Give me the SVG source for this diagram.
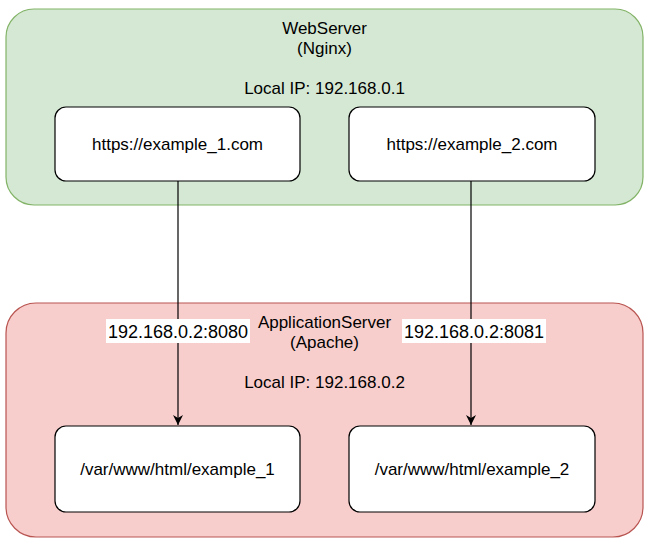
<svg xmlns="http://www.w3.org/2000/svg" width="652" height="544" viewBox="0 0 652 544">
<style>
text{font-family:"Liberation Sans",Arial,sans-serif;font-size:17px;fill:#000;text-anchor:middle}
.lbl{font-size:18px}
.box{fill:#fff;stroke:#000;stroke-width:1.2}
.edge{stroke:#000;stroke-width:1.2;fill:none}
</style>
<defs>
<marker id="arr" viewBox="0 0 10 10" refX="10" refY="5" markerWidth="10" markerHeight="10" markerUnits="userSpaceOnUse" orient="auto">
<path d="M0,0 L10,5 L0,10 L3,5 Z" fill="#000"/>
</marker>
</defs>
<g id="webserver">
<rect x="6" y="9" width="637" height="196" rx="28" fill="#d5e8d4" stroke="#82b366" stroke-width="1.2"/>
<text x="324.5" y="33.5">WebServer</text>
<text x="324.5" y="53.5">(Nginx)</text>
<text x="324.5" y="93.5">Local IP: 192.168.0.1</text>
</g>
<g id="appserver">
<rect x="6" y="303" width="637" height="234" rx="30" fill="#f8cecc" stroke="#b85450" stroke-width="1.2"/>
<text x="324.5" y="327.5">ApplicationServer</text>
<text x="324.5" y="347.5">(Apache)</text>
<text x="324.5" y="388">Local IP: 192.168.0.2</text>
</g>
<g id="example1">
<rect class="box" x="55" y="107" width="245" height="74" rx="11"/>
<text x="177.5" y="150">https://example_1.com</text>
</g>
<g id="example2">
<rect class="box" x="349" y="107" width="246" height="74" rx="11"/>
<text x="472" y="150">https://example_2.com</text>
</g>
<g id="dir1">
<rect class="box" x="55" y="426" width="245" height="86" rx="11"/>
<text x="177.5" y="475">/var/www/html/example_1</text>
</g>
<g id="dir2">
<rect class="box" x="349" y="426" width="246" height="86" rx="11"/>
<text x="472" y="475">/var/www/html/example_2</text>
</g>
<g id="connectors">
<line class="edge" x1="178" y1="181" x2="178" y2="425" marker-end="url(#arr)"/>
<line class="edge" x1="471" y1="181" x2="471" y2="425" marker-end="url(#arr)"/>
<rect x="106" y="319" width="144" height="24" fill="#fff"/>
<text class="lbl" x="178" y="338">192.168.0.2:8080</text>
<rect x="402" y="319" width="144" height="24" fill="#fff"/>
<text class="lbl" x="474" y="338">192.168.0.2:8081</text>
</g>
</svg>
